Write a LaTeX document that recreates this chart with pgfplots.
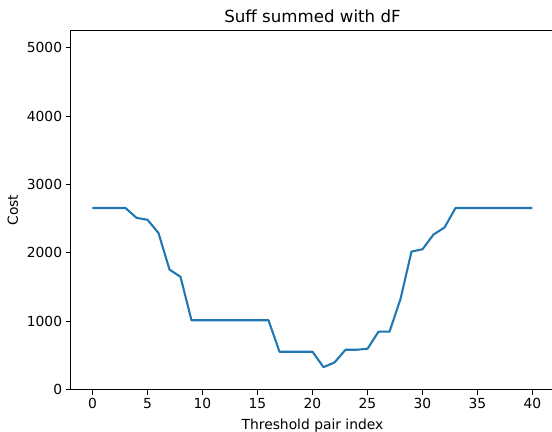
\documentclass[border=0pt]{standalone}
\usepackage{pgfplots}
\pgfplotsset{compat=1.18}
\usepackage{fontspec}
\setmainfont{DejaVu Sans}
\definecolor{tabblue}{HTML}{1F77B4}

\begin{document}
\begin{tikzpicture}
\useasboundingbox (-70.5bp,-42.3bp) rectangle (481.5bp,389.7bp);
\begin{axis}[
  at={(0,0)}, anchor=south west,
  scale only axis,
  width=484bp, height=359.2bp,
  xmin=-2, xmax=42,
  ymin=0, ymax=5251,
  xtick={0,5,...,40},
  ytick={0,1000,...,5000},
  scaled y ticks=false,
  /pgf/number format/assume math mode=true,
  /pgf/number format/1000 sep={},
  tick label style={font=\fontsize{13.9}{16}\selectfont, text=black},
  label style={font=\fontsize{13.9}{16}\selectfont},
  title style={font=\fontsize{16.7}{19}\selectfont, yshift=-2bp},
  title={Suff summed with dF},
  xlabel={Threshold pair index},
  ylabel={Cost},
  tick align=outside,
  tick pos=left,
  major tick length=4.86bp,
  every tick/.style={black, line width=1.11bp},
  axis line style={line width=1.11bp},
  xlabel style={yshift=-4bp},
  ylabel style={yshift=2bp},
]
\addplot[tabblue, line width=2.08bp, line join=round] coordinates {
(0,2656) (1,2656) (2,2656) (3,2656) (4,2512) (5,2484) (6,2290) (7,1757)
(8,1650) (9,1015) (10,1015) (11,1015) (12,1015) (13,1015) (14,1015) (15,1015)
(16,1015) (17,555) (18,555) (19,555) (20,555) (21,330) (22,398) (23,584)
(24,584) (25,598) (26,848) (27,848) (28,1326) (29,2019) (30,2053) (31,2268)
(32,2371) (33,2656) (34,2656) (35,2656) (36,2656) (37,2656) (38,2656) (39,2656)
(40,2656)
};
\end{axis}
\end{tikzpicture}
\end{document}
